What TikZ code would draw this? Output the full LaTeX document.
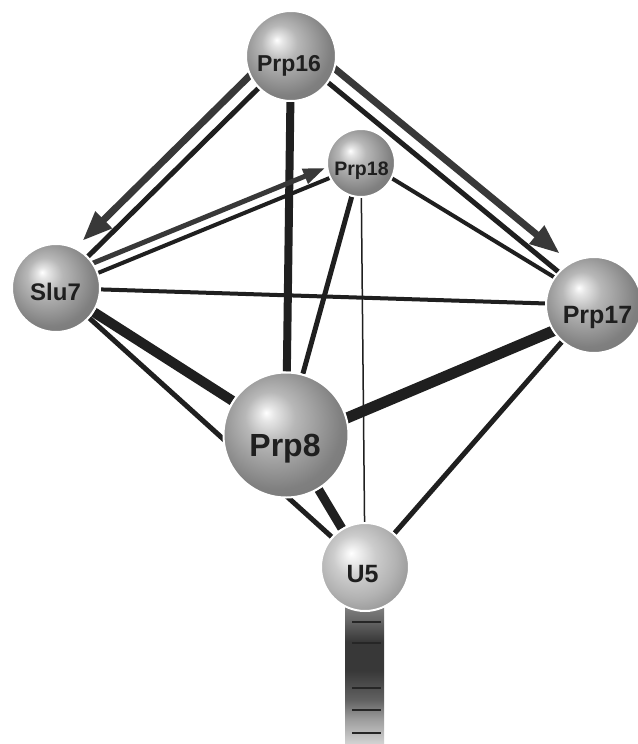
\documentclass[tikz,border=0pt]{standalone}
\usepackage{fontspec}
\setmainfont{Liberation Sans}
\usetikzlibrary{calc,arrows.meta}
\pgfdeclarelayer{bg}
\pgfsetlayers{bg,main}

% grey sphere, lit from the upper left
\pgfdeclareradialshading{sphere}{\pgfpoint{-8bp}{9bp}}{%
  color(0bp)=(white); color(3bp)=(white!90!black); color(10bp)=(white!72!black);
  color(18bp)=(white!61!black); color(26bp)=(white!50!black);
  color(34bp)=(white!47!black); color(50bp)=(white!47!black)}
% paler sphere for the snRNA
\pgfdeclareradialshading{spherelight}{\pgfpoint{-8bp}{8bp}}{%
  color(0bp)=(white); color(3bp)=(white!95!black); color(12bp)=(white!80!black);
  color(22bp)=(white!70!black); color(32bp)=(white!57!black); color(50bp)=(white!57!black)}
% RNA stem: light at both ends, dark in the middle (bottom to top)
\pgfdeclareverticalshading{stemshade}{100bp}{%
  color(0bp)=(white!82!black); color(25bp)=(white!82!black); color(33bp)=(white!62!black);
  color(40bp)=(white!38!black); color(50bp)=(white!22!black); color(60bp)=(white!22!black);
  color(68bp)=(white!42!black); color(75bp)=(white!56!black); color(100bp)=(white!56!black)}

\begin{document}
\begin{tikzpicture}[x=1pt,y=-1pt,
  sphnode/.style={circle,inner sep=0pt,draw=white,line width=2pt,shading=sphere},
  lbl/.style={anchor=base,inner sep=0pt,text=black!88},
  link/.style={draw=black!88,line cap=butt},
  arr/.style={draw=black!78,line cap=butt}]

\useasboundingbox (0,0) rectangle (637,744);

% proteins and U5 snRNA
\node[sphnode,minimum size=90pt] (prp16) at (291,56) {};
\node[sphnode,minimum size=68pt] (prp18) at (361,163) {};
\node[sphnode,minimum size=88pt] (slu7) at (56,288) {};
\node[sphnode,minimum size=96pt] (prp17) at (594,305) {};
\node[sphnode,minimum size=125pt] (prp8) at (286,435) {};
\node[sphnode,shading=spherelight,minimum size=88pt] (u5) at (365,567) {};

\node[lbl,font=\bfseries\fontsize{23}{23}\selectfont] (t16) at (289,71) {Prp16};
\node[lbl,font=\bfseries\fontsize{19.5}{19.5}\selectfont] (t18) at (361.5,175) {Prp18};
\node[lbl,font=\bfseries\fontsize{24}{24}\selectfont] (t7) at (55.5,300) {Slu7};
\node[lbl,font=\bfseries\fontsize{25}{25}\selectfont] (t17) at (597.5,323) {Prp17};
\node[lbl,font=\bfseries\fontsize{32}{32}\selectfont] (t8) at (285,456) {Prp8};
\node[lbl,font=\bfseries\fontsize{25}{25}\selectfont] (t5) at (362.5,582) {U5};

\begin{pgfonlayer}{bg}
  \fill[white] (0,0) rectangle (637,744);
  % RNA stem below U5
  \shade[shading=stemshade] (345,598) rectangle (384,743);
  \foreach \yy in {622,643,688,710,733}
    \draw[black!85,line width=2pt] (352,\yy) -- (381,\yy);

  % Prp16 -> Slu7
  \draw[arr,line width=7pt,shorten >=52pt,-{Triangle[length=30pt,width=22pt]}]
    ($(prp16)!15pt!-90:(slu7)$) -- ($(slu7)!15pt!90:(prp16)$);
  \draw[link,line width=5pt] (prp16) -- (slu7);
  % Prp16 -> Prp17
  \draw[arr,line width=7pt,shorten >=59pt,-{Triangle[length=30pt,width=22pt]}]
    ($(prp16)!18pt!90:(prp17)$) -- ($(prp17)!18pt!-90:(prp16)$);
  \draw[link,line width=5pt] ($(prp16)!3pt!90:(prp17)$) -- ($(prp17)!3pt!-90:(prp16)$);
  % Prp16 -- Prp8
  \draw[link,line width=8pt] (prp16) -- (prp8);
  % Slu7 -> Prp18
  \draw[arr,line width=5pt,shorten >=35pt,-{Triangle[length=22pt,width=15pt]}]
    ($(slu7)!9pt!90:(prp18)$) -- ($(prp18)!9pt!-90:(slu7)$);
  \draw[link,line width=4pt] ($(slu7)!2pt!-90:(prp18)$) -- ($(prp18)!2pt!90:(slu7)$);
  % remaining contacts
  \draw[link,line width=4pt] (slu7) -- (prp17);
  \draw[link,line width=10pt] (slu7) -- (prp8);
  \draw[link,line width=5pt] (slu7) -- (u5);
  \draw[link,line width=5pt] (prp18) -- (prp8);
  \draw[link,line width=1.5pt] (prp18) -- (u5);
  \draw[link,line width=4pt] ($(prp18)!3pt!90:(prp17)$) -- ($(prp17)!3pt!-90:(prp18)$);
  \draw[link,line width=11pt] ($(prp8)!8pt!-90:(prp17)$) -- ($(prp17)!8pt!90:(prp8)$);
  \draw[link,line width=9pt] (prp8) -- (u5);
  \draw[link,line width=5pt] (prp17) -- (u5);
\end{pgfonlayer}
\end{tikzpicture}
\end{document}
